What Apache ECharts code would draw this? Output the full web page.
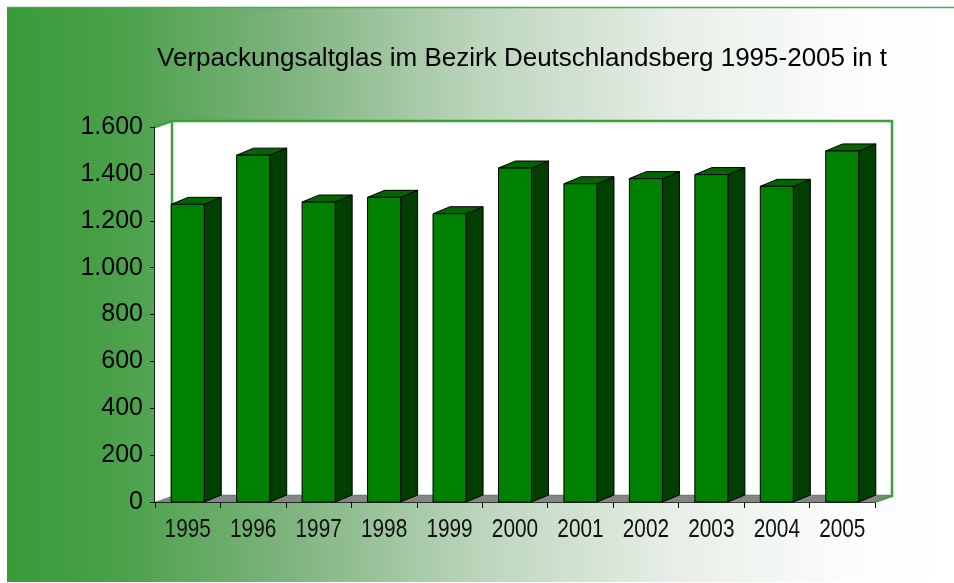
<!DOCTYPE html>
<html>
<head>
<meta charset="utf-8">
<script src="https://cdn.jsdelivr.net/npm/echarts@6/dist/echarts.min.js"></script>
<style>
html,body{margin:0;padding:0;background:#fff;}
#c{width:954px;height:583px;}
</style>
</head>
<body>
<div id="c"></div>
<script>
const titleText = 'Verpackungsaltglas im Bezirk Deutschlandsberg 1995-2005 in t';
const years = ['1995','1996','1997','1998','1999','2000','2001','2002','2003','2004','2005'];
const tonnes = [1270, 1480, 1280, 1300, 1230, 1425, 1358, 1380, 1397, 1347, 1498];
const yTicks = [0, 200, 400, 600, 800, 1000, 1200, 1400, 1600];
const yTickLabels = ['0', '200', '400', '600', '800', '1.000', '1.200', '1.400', '1.600'];

const chart = echarts.init(document.getElementById('c'), null, {renderer: 'canvas'});

const WALL_DX = 17, WALL_DY = -6;
const BAR_DX = 17, BAR_DY = -7;

function renderWall(params, api) {
  const cs = params.coordSys;
  const x0 = cs.x, y0 = cs.y, x1 = cs.x + cs.width, y1 = cs.y + cs.height;
  const green = '#3f9f3f';
  return {
    type: 'group',
    children: [
      { type: 'polygon', shape: { points: [[x0, y0], [x0 + WALL_DX, y0 + WALL_DY], [x0 + WALL_DX, y1 + WALL_DY], [x0, y1]] },
        style: { fill: '#ffffff', stroke: null } },
      { type: 'rect', shape: { x: x0 + WALL_DX, y: y0 + WALL_DY, width: cs.width, height: cs.height },
        style: { fill: '#ffffff', stroke: green, lineWidth: 2.5 } },
      { type: 'polyline', shape: { points: [[x0, y0], [x0 + WALL_DX, y0 + WALL_DY]] },
        style: { stroke: green, lineWidth: 2.5, fill: null } },
      { type: 'polygon', shape: { points: [[x0, y1], [x1, y1], [x1 + WALL_DX, y1 + WALL_DY], [x0 + WALL_DX, y1 + WALL_DY]] },
        style: { fill: '#858585', stroke: null } },
      { type: 'polyline', shape: { points: [[x1, y1], [x1 + WALL_DX, y1 + WALL_DY]] },
        style: { stroke: green, lineWidth: 2, fill: null } }
    ]
  };
}

function renderBar(params, api) {
  const idx = api.value(0);
  const val = api.value(1);
  const top = api.coord([idx, val]);
  const base = api.coord([idx, 0]);
  const band = api.size([1, 0])[0];
  const w = band * 0.505;
  const xl = top[0] - w / 2, xr = top[0] + w / 2;
  const yt = top[1], yb = base[1];
  const stroke = '#000000';
  return {
    type: 'group',
    children: [
      { type: 'polygon', shape: { points: [[xr, yt], [xr + BAR_DX, yt + BAR_DY], [xr + BAR_DX, yb + BAR_DY], [xr, yb]] },
        style: { fill: '#003f00', stroke: stroke, lineWidth: 1 } },
      { type: 'polygon', shape: { points: [[xl, yt], [xl + BAR_DX, yt + BAR_DY], [xr + BAR_DX, yt + BAR_DY], [xr, yt]] },
        style: { fill: '#006600', stroke: stroke, lineWidth: 1 } },
      { type: 'rect', shape: { x: xl, y: yt, width: w, height: yb - yt },
        style: { fill: '#008000', stroke: stroke, lineWidth: 1 } }
    ]
  };
}

// Category labels: narrow (condensed) look, placed through the category axis scale
function renderXLabel(params, api) {
  const idx = api.value(0);
  const p = api.coord([idx, 0]);
  return {
    type: 'text',
    x: p[0], y: p[1] + 15,
    scaleX: 0.8,
    style: {
      text: years[idx],
      fontSize: 26,
      fontFamily: 'Liberation Sans, Arial, sans-serif',
      fill: '#111111',
      align: 'center',
      verticalAlign: 'top'
    }
  };
}

chart.setOption({
  animation: false,
  backgroundColor: '#ffffff',
  graphic: [
    { type: 'rect', z: -10, shape: { x: 7, y: 7, width: 947, height: 575 },
      style: { fill: new echarts.graphic.LinearGradient(0, 0, 1, 0, [
        { offset: 0, color: '#389b38' },
        { offset: 0.12, color: '#4aa14a' },
        { offset: 0.3, color: '#7fb47f' },
        { offset: 0.5, color: '#bcd5bc' },
        { offset: 0.7, color: '#e6eee6' },
        { offset: 0.88, color: '#fbfcfb' },
        { offset: 1, color: '#ffffff' }
      ]) } },
    { type: 'line', z: -9, shape: { x1: 7, y1: 7.5, x2: 954, y2: 7.5 },
      style: { stroke: '#4ea64e', lineWidth: 1.5 } }
  ],
  title: {
    text: titleText,
    left: 517, top: 41, textAlign: 'center',
    textStyle: { fontFamily: 'Liberation Sans, Arial, sans-serif', fontSize: 26, fontWeight: 'normal', color: '#000' }
  },
  grid: { left: 155, right: 79, top: 127, bottom: 81 },
  xAxis: {
    type: 'category',
    data: years,
    boundaryGap: true,
    axisLine: { show: true, lineStyle: { color: '#000', width: 1.5 } },
    axisTick: { show: true, length: 6, interval: 0, alignWithLabel: false, lineStyle: { color: '#000' } },
    axisLabel: { show: false, interval: 0 },
    splitLine: { show: false }
  },
  yAxis: {
    type: 'value',
    min: 0, max: 1600, interval: 200,
    axisLine: { show: true, lineStyle: { color: '#000', width: 1.5 } },
    axisTick: { show: true, length: 5, lineStyle: { color: '#000' } },
    axisLabel: { margin: 12, color: '#000', fontSize: 25, fontFamily: 'Liberation Sans, Arial, sans-serif',
      formatter: function (v) { const i = yTicks.indexOf(v); return i >= 0 ? yTickLabels[i] : ''; } },
    splitLine: { show: false }
  },
  series: [
    { type: 'custom', renderItem: renderWall, data: [[0, 0]], z: 1, silent: true, clip: false },
    { type: 'custom', renderItem: renderBar, data: tonnes.map((v, i) => [i, v]), z: 2, clip: false,
      encode: { x: 0, y: 1 } },
    { type: 'custom', renderItem: renderXLabel, data: years.map((y, i) => [i, 0]), z: 3, clip: false, silent: true,
      encode: { x: 0, y: 1 } }
  ]
});
</script>
</body>
</html>
